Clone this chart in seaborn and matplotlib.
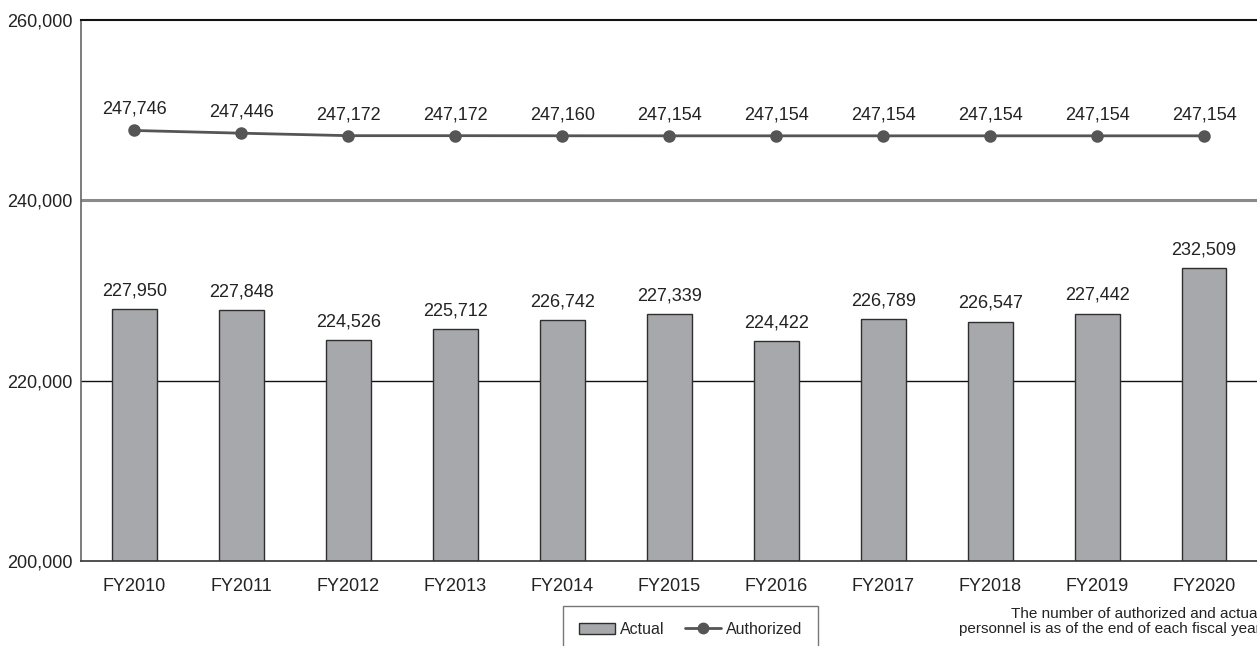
import seaborn as sns
import matplotlib.pyplot as plt
from matplotlib.patches import Patch
from matplotlib.lines import Line2D

# dati
anni = ['FY2010', 'FY2011', 'FY2012', 'FY2013', 'FY2014', 'FY2015',
        'FY2016', 'FY2017', 'FY2018', 'FY2019', 'FY2020']
effettivi = [227950, 227848, 224526, 225712, 226742, 227339,
             224422, 226789, 226547, 227442, 232509]
autorizzati = [247746, 247446, 247172, 247172, 247160, 247154,
               247154, 247154, 247154, 247154, 247154]
tick_y = [200000, 220000, 240000, 260000]

sns.set_theme(style='white')
plt.rcParams['font.family'] = ['Liberation Sans', 'DejaVu Sans']

W, H = 1257, 646
fig = plt.figure(figsize=(W / 100, H / 100), dpi=100)
ax = fig.add_axes([81 / W, 1 - 561 / H, (1257.5 - 81) / W, (561 - 20) / H])

# linee orizzontali di riferimento
ax.axhline(240000, color='#8a8a8a', linewidth=2.2, zorder=0)
ax.axhline(220000, color='#111111', linewidth=1.0, zorder=0)

sns.barplot(x=anni, y=effettivi, color='#a7a8ab', edgecolor='#2e2e2e',
            linewidth=1.0, width=0.42, saturation=1, ax=ax, zorder=2)
sns.pointplot(x=anni, y=autorizzati, color='#555555', markers='o',
              markersize=7.5, linewidth=2, ax=ax, zorder=3)

# etichette dei valori
for i, v in enumerate(effettivi):
    ax.annotate(f'{v:,}', (i, v), xytext=(0, 7), textcoords='offset points',
                ha='center', va='bottom', fontsize=13, color='#222222')
for i, v in enumerate(autorizzati):
    ax.annotate(f'{v:,}', (i, v), xytext=(0, 9), textcoords='offset points',
                ha='center', va='bottom', fontsize=13, color='#222222')

ax.set_ylim(200000, 260000)
ax.set_xlim(-0.5, 10.5)
ax.set_yticks(tick_y)
ax.set_yticklabels([f'{t:,}' for t in tick_y], fontsize=13, color='#222222')
ax.tick_params(axis='x', labelsize=13, colors='#222222', length=0, pad=12)
ax.tick_params(axis='y', length=0, pad=6)
ax.set_xlabel('')
ax.set_ylabel('')

ax.spines['right'].set_visible(False)
ax.spines['top'].set_color('#111111')
ax.spines['top'].set_linewidth(1.5)
ax.spines['left'].set_color('#666666')
ax.spines['left'].set_linewidth(1.2)
ax.spines['bottom'].set_color('#333333')
ax.spines['bottom'].set_linewidth(1.2)

maniglie = [Patch(facecolor='#a7a8ab', edgecolor='#2e2e2e', label='Actual'),
            Line2D([], [], color='#555555', marker='o', markersize=7.5,
                   linewidth=2, label='Authorized')]
leg = fig.legend(handles=maniglie, loc='upper center', ncol=2,
                 bbox_to_anchor=(690.5 / W, 1 - 606 / H), fontsize=11.5,
                 frameon=True, fancybox=False, edgecolor='#555555',
                 borderpad=1.0, handlelength=2.3, handleheight=0.75,
                 columnspacing=1.25, handletextpad=0.3, borderaxespad=0)
leg.get_frame().set_linewidth(1.0)

# nota a destra, tagliata dal bordo come nell'originale
fig.text(1261 / W, 1 - 607 / H,
         'The number of authorized and actual\npersonnel is as of the end of each fiscal year',
         ha='right', va='top', multialignment='right', fontsize=11,
         color='#222222', linespacing=1.05)

fig.savefig('out.png', dpi=100)
